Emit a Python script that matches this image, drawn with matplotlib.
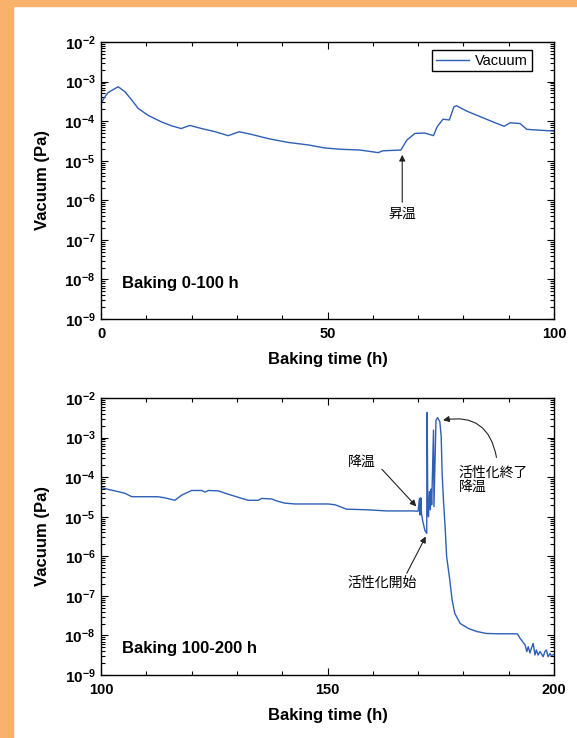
import numpy as np
import matplotlib
matplotlib.use("Agg")
import matplotlib.pyplot as plt
from matplotlib.patches import Rectangle
from matplotlib.ticker import MultipleLocator, LogLocator, FuncFormatter, NullFormatter

plt.rcParams['font.family'] = ['Liberation Sans', 'DejaVu Sans']
plt.rcParams['mathtext.fontset'] = 'custom'
plt.rcParams['mathtext.bf'] = 'Liberation Sans:bold'
plt.rcParams['mathtext.rm'] = 'Liberation Sans:bold'

# Baking 0-100 h
top_time = [0, 0.3, 0.9, 1.5, 2.4, 3.8, 5.3, 6.8, 8.2, 10.4, 13.4, 15.6, 17.7, 19.6,
            22.2, 25.2, 28.1, 30.5, 33.3, 37.0, 41.3, 45.8, 49.4, 52.8, 57.2, 61.2,
            62.2, 66.2, 67.5, 69.3, 71.5, 73.4, 74.2, 75.5, 76.9, 77.9, 78.5, 80.7,
            83.7, 86.6, 89.0, 90.3, 92.5, 94.0, 96.9, 100]
top_vac = [3.0e-4, 3.2e-4, 4.2e-4, 5.2e-4, 6.0e-4, 7.4e-4, 5.5e-4, 3.4e-4, 2.1e-4,
           1.4e-4, 9.5e-5, 7.6e-5, 6.5e-5, 7.8e-5, 6.5e-5, 5.4e-5, 4.3e-5, 5.4e-5,
           4.6e-5, 3.6e-5, 2.9e-5, 2.5e-5, 2.1e-5, 1.95e-5, 1.86e-5, 1.6e-5, 1.78e-5,
           1.86e-5, 3.3e-5, 4.9e-5, 5.0e-5, 4.3e-5, 7.2e-5, 1.12e-4, 1.07e-4, 2.3e-4,
           2.45e-4, 1.8e-4, 1.3e-4, 9.5e-5, 7.4e-5, 9.1e-5, 8.7e-5, 6.2e-5, 5.9e-5,
           5.6e-5]

# Baking 100-200 h
bot_time = [100, 101.6, 103.8, 105.3, 106.8, 112.6, 114.1, 116.3, 117.8, 120.0, 122.2,
            123.0, 123.7, 125.9, 128.1, 131.1, 132.5, 134.7, 135.5, 137.7, 138.8, 140.6,
            142.8, 150.2, 151.7, 154.2, 158.6, 163.1, 168.9, 170.0, 170.3, 170.45, 170.6,
            170.75, 171.0, 171.5, 171.9, 172.0, 172.15, 172.3, 172.5, 172.7, 172.85, 173.0,
            173.4, 173.5, 173.95, 174.3, 174.8, 175.1, 175.3, 175.6, 176.0, 176.3, 177.0,
            177.5, 178.1, 179.3, 181.1, 182.9, 185.1, 188.1, 191.9, 192.5, 193.6, 194.0,
            194.3, 194.7, 195.0, 195.4, 195.8, 196.1, 196.5, 196.9, 197.2, 197.6, 198.0,
            198.3, 198.7, 199.1, 199.4, 200]
bot_vac = [5.5e-5, 4.9e-5, 4.3e-5, 3.9e-5, 3.2e-5, 3.2e-5, 3.0e-5, 2.6e-5, 3.5e-5, 4.6e-5,
           4.6e-5, 4.2e-5, 4.6e-5, 4.5e-5, 3.7e-5, 2.9e-5, 2.6e-5, 2.6e-5, 2.9e-5, 2.8e-5,
           2.5e-5, 2.2e-5, 2.1e-5, 2.1e-5, 2.0e-5, 1.55e-5, 1.5e-5, 1.4e-5, 1.4e-5, 1.38e-5,
           2.9e-5, 1.1e-5, 3.0e-5, 1.2e-5, 8e-6, 4.5e-6, 3.8e-6, 4.3e-3, 1.2e-5, 1.0e-5,
           4.3e-5, 1.5e-5, 5e-5, 2.0e-5, 1.55e-3, 1.8e-5, 2.75e-3, 3.2e-3, 2.5e-3, 1.05e-3,
           1.26e-4, 2.6e-5, 4.6e-6, 9.8e-7, 2.5e-7, 8e-8, 3.6e-8, 2.0e-8, 1.5e-8, 1.26e-8,
           1.12e-8, 1.1e-8, 1.1e-8, 8.5e-9, 5.8e-9, 3.9e-9, 5.2e-9, 3.6e-9, 4.7e-9, 6.3e-9,
           3.2e-9, 4.3e-9, 3.2e-9, 3.9e-9, 3.5e-9, 2.9e-9, 3.9e-9, 4.3e-9, 2.9e-9, 3.5e-9,
           3.1e-9, 3.3e-9]

line_color = '#2d5fb5'
jp_font = ['Noto Sans CJK JP', 'DejaVu Sans']

fig = plt.figure(figsize=(5.77, 7.38), dpi=100)
fig.patches.append(Rectangle((0, 0), 13 / 577, 1, transform=fig.transFigure,
                             color='#f9b26b', zorder=0))
fig.patches.append(Rectangle((0, 1 - 6 / 738), 1, 6 / 738, transform=fig.transFigure,
                             color='#f9b26b', zorder=0))

left = 101 / 577
width = 453 / 577
height = 277 / 738
ax1 = fig.add_axes([left, 1 - 319 / 738, width, height])
ax2 = fig.add_axes([left, 1 - 675 / 738, width, height])


def exp_fmt(v, pos):
    e = int(round(np.log10(v)))
    return r'$\mathbf{10^{%d}}$' % e


for ax, xlim in [(ax1, (0, 100)), (ax2, (100, 200))]:
    ax.set_yscale('log')
    ax.set_ylim(1e-9, 1e-2)
    ax.set_xlim(*xlim)
    ax.xaxis.set_major_locator(MultipleLocator(50))
    ax.xaxis.set_minor_locator(MultipleLocator(10))
    ax.yaxis.set_major_locator(LogLocator(base=10, numticks=20))
    ax.yaxis.set_minor_locator(LogLocator(base=10, subs=np.arange(2, 10), numticks=20))
    ax.yaxis.set_major_formatter(FuncFormatter(exp_fmt))
    ax.yaxis.set_minor_formatter(NullFormatter())
    ax.tick_params(which='both', direction='in', top=True, right=True, width=0.8)
    ax.tick_params(which='major', length=5, pad=3)
    ax.tick_params(axis='y', which='major', labelsize=11, pad=4)
    ax.tick_params(axis='x', which='major', labelsize=10.5, pad=5.5)
    ax.tick_params(which='minor', length=3)
    for lab in ax.get_xticklabels():
        lab.set_fontweight('bold')
    for s in ax.spines.values():
        s.set_linewidth(1.0)
    ax.set_xlabel('Baking time (h)', fontsize=12, fontweight='bold', labelpad=8)
    ax.set_ylabel('Vacuum (Pa)', fontsize=12, fontweight='bold', labelpad=10)

ax1.plot(top_time, top_vac, color=line_color, lw=1.0, label='Vacuum')
ax2.plot(bot_time, bot_vac, color=line_color, lw=1.0)

leg = ax1.legend(loc='upper right', bbox_to_anchor=(0.951, 0.971), borderaxespad=0,
                 fancybox=False, edgecolor='black', framealpha=1, fontsize=10.5,
                 handlelength=2.3, borderpad=0.25, handletextpad=0.4)
leg.get_frame().set_linewidth(1.0)

ax1.text(0.046, 0.127, 'Baking 0-100 h', transform=ax1.transAxes, fontsize=12,
         fontweight='bold', va='center', ha='left')
ax2.text(0.046, 0.094, 'Baking 100-200 h', transform=ax2.transAxes, fontsize=12,
         fontweight='bold', va='center', ha='left')

arrow = dict(arrowstyle='-|>', color='#222222', lw=0.8, mutation_scale=9,
             shrinkA=0, shrinkB=0)

ax1.annotate('', xy=(66.5, 10 ** -4.85), xytext=(66.5, 10 ** -6.05), arrowprops=arrow)
ax1.text(66.5, 10 ** -6.33, '昇温', family=jp_font, fontsize=10, ha='center', va='center')

ax2.text(157.5, 10 ** -3.61, '降温', family=jp_font, fontsize=10, ha='center', va='center')
ax2.annotate('', xy=(169.6, 10 ** -4.74), xytext=(162.0, 10 ** -3.8), arrowprops=arrow)

ax2.text(162.0, 10 ** -6.68, '活性化開始', family=jp_font, fontsize=10, ha='center',
         va='center')
ax2.annotate('', xy=(171.7, 10 ** -5.5), xytext=(167.5, 10 ** -6.43), arrowprops=arrow)

ax2.text(178.9, 10 ** -4.07, '活性化終了\n降温', family=jp_font, fontsize=10, ha='left',
         va='center', linespacing=1.0)
arc = dict(arrow, connectionstyle='arc3,rad=0.5')
ax2.annotate('', xy=(175.5, 10 ** -2.56), xytext=(187.3, 10 ** -3.5), arrowprops=arc)

fig.savefig('out.png', dpi=100)
